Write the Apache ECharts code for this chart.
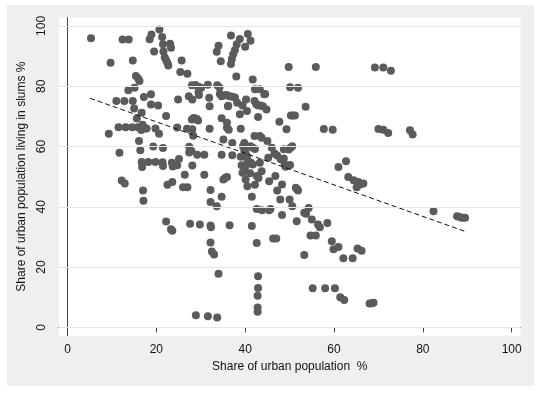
<!DOCTYPE html>
<html>
<head>
<meta charset="utf-8">
<script src="https://cdn.jsdelivr.net/npm/echarts@6/dist/echarts.min.js"></script>
<style>
html,body{margin:0;padding:0;background:#fff;}
#chart{width:540px;height:394px;}
</style>
</head>
<body>
<div id="chart"></div>
<script>
// Share of urban population (%), x values
const urbanShare = [
5.3,9.7,9.3,11.0,11.5,11.7,12.2,12.9,12.4,13.8,12.8,13.1,13.7,14.7,14.7,14.6,15.0,15.1,15.4,15.9,
16.2,15.6,15.9,16.1,16.4,16.7,16.7,16.8,17.0,17.1,17.2,16.6,17.3,16.9,18.2,17.8,18.5,18.9,18.8,18.8,
19.3,19.5,19.8,19.8,20.4,20.6,20.7,21.3,21.5,21.6,21.9,22.2,22.5,22.7,21.5,21.4,21.5,22.2,22.2,22.5,
23.1,23.3,23.3,23.6,23.5,23.6,24.7,24.7,24.9,25.1,25.4,25.7,26.4,26.0,27.0,27.0,27.3,27.4,26.9,27.6,
28.0,28.8,29.5,30.1,28.1,28.0,28.4,28.7,29.1,29.4,28.1,28.3,27.9,28.1,28.9,29.2,29.5,29.6,29.8,30.8,
30.8,31.6,31.9,32.0,32.0,32.2,32.2,32.2,32.3,32.2,32.5,33.0,31.6,33.7,33.6,34.0,33.6,34.0,33.7,34.2,
34.5,34.3,34.7,34.7,34.7,34.7,35.1,35.5,35.1,35.5,35.9,35.9,35.9,36.3,36.1,36.5,36.5,37.1,37.7,36.8,
38.8,38.1,37.7,37.3,37.0,36.8,37.1,37.1,38.0,38.2,38.8,39.0,39.0,39.2,39.4,39.4,40.6,41.2,40.0,39.8,
39.5,39.8,40.1,40.4,40.5,40.1,39.9,40.1,40.5,40.2,40.4,41.2,41.7,41.3,41.7,41.5,41.5,41.7,42.1,42.5,
42.2,42.1,42.2,42.2,42.6,43.0,42.6,42.6,42.8,42.8,42.8,42.9,42.9,42.9,43.3,43.7,43.3,42.9,43.5,44.0,
43.3,43.7,43.8,44.3,44.8,45.0,45.2,45.4,45.4,45.7,46.0,46.3,47.0,46.6,47.2,46.8,47.2,47.7,47.9,48.3,
48.3,48.7,48.9,49.3,49.8,50.1,49.8,50.2,50.6,50.1,50.0,50.3,50.8,51.2,50.6,51.4,51.7,51.9,51.6,51.9,
53.3,53.3,53.7,53.6,54.3,54.7,55.0,55.2,55.9,55.9,56.4,56.8,57.7,58.0,58.5,59.5,59.9,59.7,60.2,61.0,
61.0,61.4,62.3,62.1,62.7,63.2,64.4,65.5,64.2,65.1,65.9,66.6,65.3,66.2,68.0,68.5,68.9,69.2,70.0,71.1,
72.2,71.1,72.8,77.1,77.7,82.4,87.7,88.3,88.8,89.5,
41.1,48.0,48.7,49.1,36.2,44.5,27.4,23.7,35.8
];
// Share of urban population living in slums (%), y values
const slumShare = [
95.9,87.8,64.2,75.1,66.4,57.9,48.7,47.7,95.5,95.5,75.1,66.4,78.7,88.5,75.1,66.4,72.6,79.5,83.4,82.6,
81.7,69.3,66.4,61.8,58.8,71.2,54.9,53.2,45.4,42.0,76.4,65.5,66.0,67.2,54.9,66.0,95.6,97.2,77.3,73.9,
60.0,91.5,66.0,54.9,73.6,64.2,98.8,96.3,93.9,91.5,89.5,88.6,87.8,86.9,59.5,54.8,53.5,70.1,35.1,47.3,
94.1,92.8,32.6,32.1,54.6,48.2,66.3,53.8,75.6,55.9,84.7,88.5,50.6,46.5,46.5,84.1,76.7,59.9,65.9,34.4,
80.3,80.4,79.8,79.5,75.6,69.0,69.5,69.3,69.1,68.6,65.7,63.6,58.5,53.7,4.0,57.3,78.1,77.1,34.1,57.3,
50.6,80.5,76.2,73.4,65.9,45.6,41.6,33.8,33.2,28.2,25.2,24.2,3.7,3.3,40.2,17.8,91.4,93.4,80.3,79.6,
88.3,77.4,76.7,69.4,57.3,43.3,62.3,77.0,49.1,49.6,49.9,67.9,66.2,65.6,73.4,33.9,76.7,76.5,76.3,96.8,
95.7,93.9,92.0,90.6,89.0,87.4,57.1,61.2,83.2,74.5,70.7,65.9,56.6,53.8,51.3,73.6,97.3,95.1,93.1,61.2,
60.1,59.0,57.9,56.8,55.7,53.5,51.8,49.1,46.8,75.6,71.8,60.1,59.6,54.6,54.0,43.3,33.6,82.2,75.1,74.0,
79.0,63.5,59.2,47.3,50.2,49.6,28.0,39.3,10.5,6.6,5.2,17.0,13.1,69.8,63.5,62.9,79.0,73.6,73.6,73.4,
54.6,51.8,38.9,77.3,72.3,61.8,56.3,48.5,38.9,39.3,59.6,29.5,29.5,57.7,57.0,50.2,45.4,68.2,42.4,47.4,
37.3,56.0,54.0,65.7,86.4,79.7,59.0,59.6,60.1,53.9,42.4,70.3,70.3,70.3,40.2,46.3,45.8,45.4,35.2,79.5,
24.0,38.0,37.7,73.2,39.6,30.5,35.8,13.0,86.4,30.5,34.1,33.2,65.8,13.0,34.6,28.6,25.9,65.6,13.0,53.2,
26.7,10.0,9.1,22.9,55.1,49.9,48.8,48.2,22.9,46.5,47.4,47.7,26.2,25.4,7.9,8.0,8.2,86.2,65.8,65.6,
64.5,86.2,85.1,65.4,64.0,38.5,36.9,36.6,36.4,36.4,
51.1,55.8,59.1,53.3,73.5,77.4,58.0,53.4,77.1
];
// Fitted (dashed) line end points
const fitX = [5.1, 89.4];
const fitY = [76.0, 31.9];
// Tick labels
const xTicks = [0, 20, 40, 60, 80, 100];
const yTicks = [0, 20, 40, 60, 80, 100];

const points = urbanShare.map((x, i) => [x, slumShare[i]]);
const fitLine = fitX.map((x, i) => [x, fitY[i]]);

const chart = echarts.init(document.getElementById('chart'), null, {renderer: 'canvas'});
const font = 'Liberation Sans, Arial, Helvetica, sans-serif';
chart.setOption({
  animation: false,
  backgroundColor: '#ffffff',
  graphic: [{
    type: 'rect', silent: true, z: -10,
    shape: {x: 7, y: 5, width: 527, height: 381},
    style: {fill: '#efefef'}
  }],
  grid: {
    left: 59, right: 19.5, top: 17.5, bottom: 58.3,
    show: true, backgroundColor: '#ffffff', borderWidth: 0
  },
  xAxis: {
    type: 'value', min: -1.91, max: 101.98,
    name: 'Share of urban population  %',
    nameLocation: 'middle', nameGap: 23,
    nameTextStyle: {fontFamily: font, fontSize: 12, color: '#111'},
    axisLine: {show: true, lineStyle: {color: '#444', width: 1}},
    axisTick: {show: true, length: 5, customValues: xTicks, lineStyle: {color: '#444'}},
    axisLabel: {customValues: xTicks, margin: 8, fontFamily: font, fontSize: 12, color: '#111'},
    splitLine: {show: false}
  },
  yAxis: {
    type: 'value', min: -2.75, max: 102.8,
    name: 'Share of urban population living in slums %',
    nameLocation: 'middle', nameGap: 23,
    nameTextStyle: {fontFamily: font, fontSize: 12, color: '#111'},
    axisLine: {show: true, lineStyle: {color: '#444', width: 1}},
    axisTick: {show: true, length: 5, customValues: yTicks, lineStyle: {color: '#444'}},
    axisLabel: {customValues: yTicks, rotate: 90, margin: 11, fontFamily: font, fontSize: 12, color: '#111'},
    splitLine: {show: false}
  },
  series: [
    {
      type: 'line', data: [], z: 1, silent: true,
      markLine: {
        silent: true, symbol: ['none', 'none'], label: {show: false},
        lineStyle: {color: '#e6e6e6', width: 1, type: 'solid'},
        emphasis: {disabled: true},
        data: yTicks.map(v => ({yAxis: v}))
      }
    },
    {
      type: 'scatter', data: points, z: 2, silent: true,
      symbol: 'circle', symbolSize: 8,
      itemStyle: {color: '#5b5b5b', opacity: 1}
    },
    {
      type: 'line', data: fitLine, z: 3, silent: true,
      symbol: 'none',
      lineStyle: {color: '#111', width: 1, type: [5, 3]}
    }
  ]
});
</script>
</body>
</html>
